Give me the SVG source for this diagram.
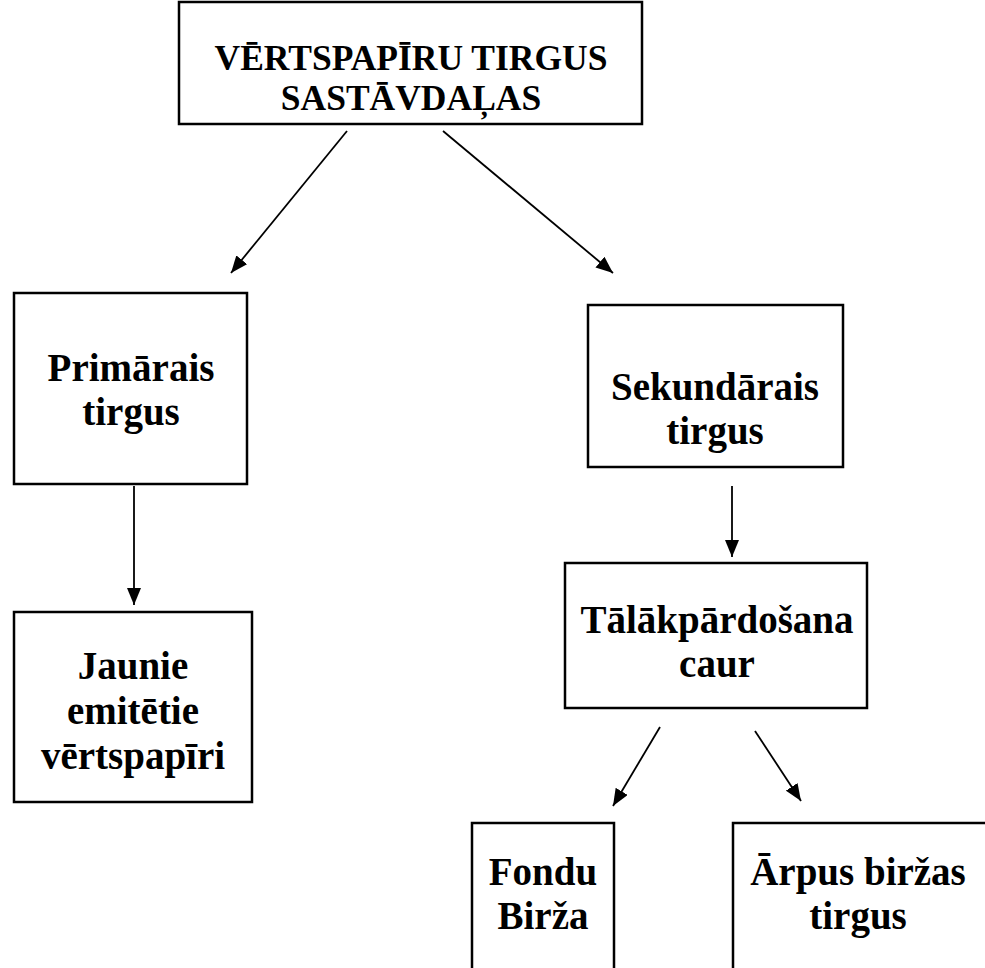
<svg xmlns="http://www.w3.org/2000/svg" width="985" height="968" viewBox="0 0 985 968">
<style>
rect.box{fill:#fff;stroke:#000;stroke-width:2.5}
text{font-family:"Liberation Serif","Times New Roman",serif;font-weight:bold;font-size:39px;fill:#000;text-anchor:middle}
text.t{font-size:35.5px}
.conn line{stroke:#000;stroke-width:1.8}
</style>
<defs>
<marker id="a" viewBox="0 0 17 14" refX="17" refY="7" markerWidth="17" markerHeight="14" markerUnits="userSpaceOnUse" orient="auto">
<path d="M0,0 L17,7 L0,14 z" fill="#000"/>
</marker>
</defs>
<rect width="985" height="968" fill="#fff"/>
<g id="top">
<rect class="box" x="179" y="2" width="463" height="122"/>
<text class="t" x="411" y="70">VĒRTSPAPĪRU TIRGUS</text>
<text class="t" x="411" y="110">SASTĀVDAĻAS</text>
</g>
<g id="primarais">
<rect class="box" x="14" y="293" width="233" height="191"/>
<text x="131" y="381">Primārais</text>
<text x="131" y="425">tirgus</text>
</g>
<g id="sekundarais">
<rect class="box" x="588" y="305" width="255" height="162"/>
<text x="715" y="400">Sekundārais</text>
<text x="715" y="444">tirgus</text>
</g>
<g id="jaunie">
<rect class="box" x="14" y="612" width="238" height="190"/>
<text x="133" y="679">Jaunie</text>
<text x="133" y="724">emitētie</text>
<text x="133" y="769">vērtspapīri</text>
</g>
<g id="talak">
<rect class="box" x="565" y="563" width="302" height="145"/>
<text x="717" y="633">Tālākpārdošana</text>
<text x="717" y="677">caur</text>
</g>
<g id="fondu">
<rect class="box" x="472" y="823" width="142" height="150"/>
<text x="543" y="885">Fondu</text>
<text x="543" y="929">Birža</text>
</g>
<g id="arpus">
<rect class="box" x="733" y="823" width="260" height="150"/>
<text x="858" y="885">Ārpus biržas</text>
<text x="858" y="929">tirgus</text>
</g>
<g class="conn" id="connectors">
<line x1="347" y1="131" x2="231" y2="273" marker-end="url(#a)"/>
<line x1="443" y1="131" x2="613" y2="273" marker-end="url(#a)"/>
<line x1="134" y1="486" x2="134" y2="605" marker-end="url(#a)"/>
<line x1="732" y1="486" x2="732" y2="557" marker-end="url(#a)"/>
<line x1="660" y1="727" x2="613" y2="806" marker-end="url(#a)"/>
<line x1="755" y1="731" x2="801" y2="801" marker-end="url(#a)"/>
</g>
</svg>
